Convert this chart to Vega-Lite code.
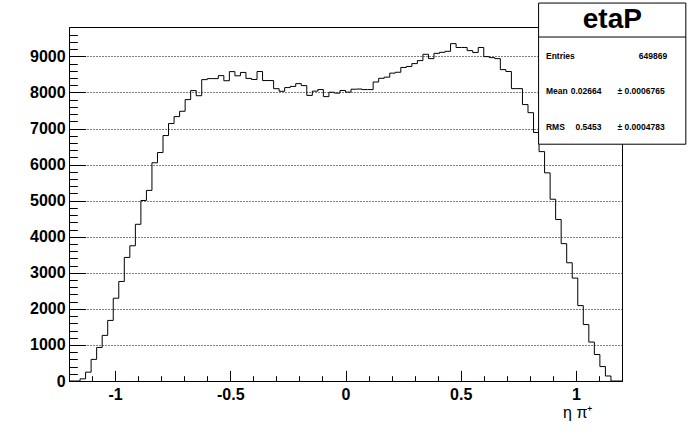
{
  "$schema": "https://vega.github.io/schema/vega-lite/v6.json",
  "width": 553,
  "height": 354,
  "autosize": {"type": "none"},
  "padding": {"left": 69, "top": 27, "right": 70, "bottom": 63},
  "background": "white",
  "config": {
    "view": {"stroke": "black", "strokeWidth": 1},
    "font": "Liberation Sans",
    "axis": {"domainColor": "black", "tickColor": "black", "labelColor": "black", "titleColor": "black", "labelFont": "Liberation Sans", "titleFont": "Liberation Sans"},
    "text": {"font": "Liberation Sans", "fontWeight": "bold", "fontSize": 8.5, "baseline": "middle", "color": "black"}
  },
  "layer": [
    {
      "data": {"values": [
        {"x": -1.2, "n": 0}, {"x": -1.176, "n": 0}, {"x": -1.152, "n": 60}, {"x": -1.128, "n": 245},
        {"x": -1.104, "n": 600}, {"x": -1.08, "n": 930}, {"x": -1.056, "n": 1265}, {"x": -1.032, "n": 1680},
        {"x": -1.008, "n": 2295}, {"x": -0.984, "n": 2760}, {"x": -0.96, "n": 3426}, {"x": -0.936, "n": 3749},
        {"x": -0.912, "n": 4345}, {"x": -0.888, "n": 5005}, {"x": -0.864, "n": 5285}, {"x": -0.84, "n": 6050},
        {"x": -0.816, "n": 6334}, {"x": -0.792, "n": 6805}, {"x": -0.768, "n": 7138}, {"x": -0.744, "n": 7331},
        {"x": -0.72, "n": 7479}, {"x": -0.696, "n": 7802}, {"x": -0.672, "n": 8052}, {"x": -0.648, "n": 7910},
        {"x": -0.624, "n": 8356}, {"x": -0.6, "n": 8384}, {"x": -0.576, "n": 8384}, {"x": -0.552, "n": 8467},
        {"x": -0.528, "n": 8325}, {"x": -0.504, "n": 8578}, {"x": -0.48, "n": 8462}, {"x": -0.456, "n": 8555},
        {"x": -0.432, "n": 8390}, {"x": -0.408, "n": 8360}, {"x": -0.384, "n": 8580}, {"x": -0.36, "n": 8330},
        {"x": -0.336, "n": 8330}, {"x": -0.312, "n": 8105}, {"x": -0.288, "n": 8033}, {"x": -0.264, "n": 8135},
        {"x": -0.24, "n": 8167}, {"x": -0.216, "n": 8245}, {"x": -0.192, "n": 8190}, {"x": -0.168, "n": 7918},
        {"x": -0.144, "n": 8037}, {"x": -0.12, "n": 8080}, {"x": -0.096, "n": 7885}, {"x": -0.072, "n": 8006},
        {"x": -0.048, "n": 7982}, {"x": -0.024, "n": 8055}, {"x": 0, "n": 8010}, {"x": 0.024, "n": 8090},
        {"x": 0.048, "n": 8095}, {"x": 0.072, "n": 8080}, {"x": 0.096, "n": 8080}, {"x": 0.12, "n": 8290},
        {"x": 0.144, "n": 8393}, {"x": 0.168, "n": 8425}, {"x": 0.192, "n": 8536}, {"x": 0.216, "n": 8560},
        {"x": 0.24, "n": 8693}, {"x": 0.264, "n": 8721}, {"x": 0.288, "n": 8800}, {"x": 0.312, "n": 8883},
        {"x": 0.336, "n": 9058}, {"x": 0.36, "n": 8938}, {"x": 0.384, "n": 9085}, {"x": 0.408, "n": 9113},
        {"x": 0.432, "n": 9141}, {"x": 0.456, "n": 9354}, {"x": 0.48, "n": 9247}, {"x": 0.504, "n": 9247},
        {"x": 0.528, "n": 9160}, {"x": 0.552, "n": 9110}, {"x": 0.576, "n": 9247}, {"x": 0.6, "n": 8994},
        {"x": 0.624, "n": 8966}, {"x": 0.648, "n": 8938}, {"x": 0.672, "n": 8634}, {"x": 0.696, "n": 8582},
        {"x": 0.72, "n": 8106}, {"x": 0.744, "n": 8106}, {"x": 0.768, "n": 7664}, {"x": 0.792, "n": 7440},
        {"x": 0.816, "n": 6890}, {"x": 0.84, "n": 6360}, {"x": 0.864, "n": 5771}, {"x": 0.888, "n": 5040},
        {"x": 0.912, "n": 4478}, {"x": 0.936, "n": 3808}, {"x": 0.96, "n": 3278}, {"x": 0.984, "n": 2853},
        {"x": 1.008, "n": 2090}, {"x": 1.032, "n": 1565}, {"x": 1.056, "n": 1080}, {"x": 1.08, "n": 735},
        {"x": 1.104, "n": 400}, {"x": 1.128, "n": 139}, {"x": 1.152, "n": 0}, {"x": 1.176, "n": 0},
        {"x": 1.2, "n": 0}
      ]},
      "layer": [
        {
          "mark": {"type": "line", "interpolate": "step-after", "color": "black", "strokeWidth": 1},
          "encoding": {
            "x": {"field": "x", "type": "quantitative", "scale": {"domain": [-1.2, 1.2], "nice": false, "zero": false},
              "axis": {"orient": "bottom", "values": [-1, -0.5, 0, 0.5, 1], "labelExpr": "'' + datum.value",
                "tickSize": -10.6, "tickWidth": 1, "labelPadding": 16,
                "labelFontSize": 16, "labelFontWeight": "bold", "labelFlush": false, "labelOverlap": false, "grid": false,
                "domainWidth": 1, "title": "η π⁺", "titleFontSize": 16, "titleFontWeight": "normal", "titleAlign": "right",
                "titleAnchor": "end", "titleX": 523, "titleY": 36, "titleBaseline": "alphabetic"}},
            "y": {"field": "n", "type": "quantitative", "scale": {"domain": [0, 9815], "nice": false},
              "axis": {"orient": "left", "values": [0, 1000, 2000, 3000, 4000, 5000, 6000, 7000, 8000, 9000], "format": "d",
                "tickSize": -16.6, "tickWidth": 1, "labelPadding": 20.5, "labelFontSize": 16, "labelFontWeight": "bold",
                "labelFlush": false, "labelOverlap": false, "grid": true, "gridColor": "black", "gridDash": [1, 2],
                "gridWidth": 1, "gridOpacity": 1, "domainWidth": 1, "title": null}}
          }
        },
        {
          "mark": {"type": "point", "opacity": 0},
          "encoding": {
            "x": {"field": "x", "type": "quantitative", "scale": {"domain": [-1.2, 1.2], "nice": false, "zero": false},
              "axis": {"orient": "bottom", "values": [-1.1, -0.9, -0.8, -0.7, -0.6, -0.4, -0.3, -0.2, -0.1, 0.1, 0.2, 0.3, 0.4, 0.6, 0.7, 0.8, 0.9, 1.1],
                "tickSize": -5.3, "tickWidth": 1, "labels": false, "domain": false, "grid": false, "title": null}},
            "y": {"field": "n", "type": "quantitative", "scale": {"domain": [0, 9815], "nice": false},
              "axis": {"orient": "left", "values": [200, 400, 600, 800, 1200, 1400, 1600, 1800, 2200, 2400, 2600, 2800, 3200, 3400, 3600, 3800, 4200, 4400, 4600, 4800, 5200, 5400, 5600, 5800, 6200, 6400, 6600, 6800, 7200, 7400, 7600, 7800, 8200, 8400, 8600, 8800, 9200, 9400, 9600],
                "tickSize": -8.3, "tickWidth": 1, "labels": false, "domain": false, "grid": false, "title": null}}
          }
        }
      ],
      "resolve": {"axis": {"x": "independent", "y": "independent"}}
    },
    {
      "data": {"values": [{"label": "stats"}]},
      "layer": [
        {
          "mark": {"type": "rect", "fill": "white", "stroke": "black", "strokeWidth": 1},
          "encoding": {
            "x": {"datum": 0.838, "type": "quantitative", "scale": {"domain": [-1.2, 1.2], "nice": false, "zero": false}, "axis": null},
            "x2": {"datum": 1.477},
            "y": {"datum": 6565, "type": "quantitative", "scale": {"domain": [0, 9815], "nice": false}, "axis": null},
            "y2": {"datum": 10479}
          }
        },
        {
          "mark": {"type": "rule", "color": "black", "strokeWidth": 1},
          "encoding": {
            "x": {"datum": 0.838, "type": "quantitative", "axis": null},
            "x2": {"datum": 1.477},
            "y": {"datum": 9537, "type": "quantitative", "axis": null}
          }
        },
        {
          "mark": {"type": "text", "text": "etaP", "fontSize": 28, "align": "center"},
          "encoding": {
            "x": {"datum": 1.158, "type": "quantitative", "axis": null},
            "y": {"datum": 10010, "type": "quantitative", "axis": null}
          }
        },
        {
          "mark": {"type": "text", "text": "Entries", "align": "left"},
          "encoding": {
            "x": {"datum": 0.870, "type": "quantitative", "axis": null},
            "y": {"datum": 9003, "type": "quantitative", "axis": null}
          }
        },
        {
          "mark": {"type": "text", "text": "649869", "align": "right"},
          "encoding": {
            "x": {"datum": 1.396, "type": "quantitative", "axis": null},
            "y": {"datum": 9003, "type": "quantitative", "axis": null}
          }
        },
        {
          "mark": {"type": "text", "text": "Mean", "align": "left"},
          "encoding": {
            "x": {"datum": 0.870, "type": "quantitative", "axis": null},
            "y": {"datum": 8033, "type": "quantitative", "axis": null}
          }
        },
        {
          "mark": {"type": "text", "text": "0.02664", "align": "right"},
          "encoding": {
            "x": {"datum": 1.111, "type": "quantitative", "axis": null},
            "y": {"datum": 8033, "type": "quantitative", "axis": null}
          }
        },
        {
          "mark": {"type": "text", "text": "± 0.0006765", "align": "right"},
          "encoding": {
            "x": {"datum": 1.385, "type": "quantitative", "axis": null},
            "y": {"datum": 8033, "type": "quantitative", "axis": null}
          }
        },
        {
          "mark": {"type": "text", "text": "RMS", "align": "left"},
          "encoding": {
            "x": {"datum": 0.870, "type": "quantitative", "axis": null},
            "y": {"datum": 7036, "type": "quantitative", "axis": null}
          }
        },
        {
          "mark": {"type": "text", "text": "0.5453", "align": "right"},
          "encoding": {
            "x": {"datum": 1.111, "type": "quantitative", "axis": null},
            "y": {"datum": 7036, "type": "quantitative", "axis": null}
          }
        },
        {
          "mark": {"type": "text", "text": "± 0.0004783", "align": "right"},
          "encoding": {
            "x": {"datum": 1.385, "type": "quantitative", "axis": null},
            "y": {"datum": 7036, "type": "quantitative", "axis": null}
          }
        }
      ]
    }
  ],
  "resolve": {"axis": {"x": "independent", "y": "independent"}}
}
